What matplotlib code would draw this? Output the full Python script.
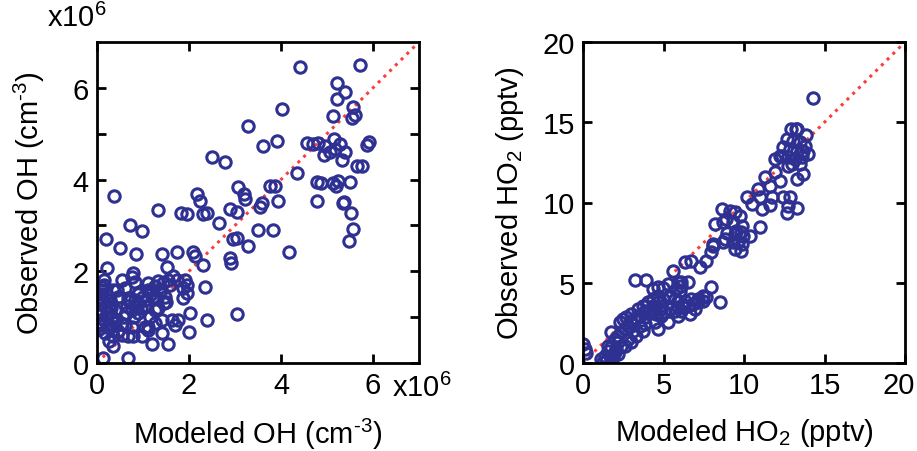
import numpy as np
import matplotlib
matplotlib.use("Agg")
import matplotlib.pyplot as plt
import matplotlib.transforms as mtransforms

plt.rcParams['font.family'] = ['Liberation Sans', 'DejaVu Sans']
plt.rcParams['mathtext.fontset'] = 'custom'
plt.rcParams['mathtext.rm'] = 'Liberation Sans'
plt.rcParams['mathtext.it'] = 'Liberation Sans'

# ---- Data: OH (units of 1e6 cm^-3) ----
oh_mod = [4.41, 5.72, 5.22, 5.39, 5.22, 4.02, 5.57, 5.61, 5.54, 5.13, 3.61, 3.91, 4.57, 4.70, 4.80,
          5.15, 4.96, 5.28, 5.17, 5.07, 4.93, 5.39, 5.33, 5.87, 5.91, 5.65, 5.76, 4.35, 3.76, 3.87,
          4.78, 4.87, 5.13, 5.24, 5.20, 5.50, 3.59, 3.93, 4.78, 5.37, 3.54, 5.35, 5.52, 5.57, 5.48,
          3.50, 3.83, 4.17, 3.28, 2.50, 2.78, 0.37, 2.17, 2.24, 3.07, 3.20, 3.22, 1.33, 1.83, 1.96,
          2.30, 2.39, 2.65, 2.89, 3.04, 0.72, 0.98, 0.20, 0.50, 0.85, 1.41, 1.74, 2.09, 2.13, 2.30,
          2.96, 3.04, 3.28, 2.89, 2.91, 0.22, 1.52, 2.35, 2.02, 2.39, 3.04, 2.00, 1.54, 1.20, 0.67,
          0.13, 0.78, 0.76, 0.83, 0.16, 0.10, 0.07, 0.14, 0.07, 0.17, 0.25, 0.10, 0.21, 0.17, 0.25,
          0.35, 0.46, 0.39, 0.32, 0.28, 0.43, 0.54, 0.50, 0.61, 0.68, 0.83, 0.86, 0.90, 0.75, 0.61,
          0.75, 0.79, 0.97, 1.04, 1.11, 1.15, 1.26, 1.04, 1.11, 1.11, 1.26, 1.33, 1.44, 1.37, 1.48,
          1.30, 1.51, 1.33, 1.41, 1.62, 1.70, 1.77, 1.41, 1.59, 1.73, 1.91, 1.88, 1.95, 1.88, 1.26,
          1.11, 0.35, 0.54, 0.68, 0.10, 0.20, 0.35, 0.45, 0.65, 0.55, 0.90, 1.00, 1.20, 0.88, 0.92,
          0.30, 0.05, 0.62, 1.22, 1.65, 1.95, 0.40, 0.80, 1.05, 1.55,
          0.05, 0.08, 0.12, 0.04, 0.15, 0.06, 0.30, 0.26, 0.70, 0.95, 1.18, 1.45, 0.58, 0.40]
oh_obs = [6.45, 6.50, 6.10, 5.91, 5.75, 5.54, 5.58, 5.40, 5.34, 5.38, 4.73, 4.84, 4.79, 4.77, 4.79,
          4.88, 4.73, 4.77, 4.66, 4.60, 4.53, 4.60, 4.42, 4.75, 4.81, 4.29, 4.29, 4.14, 3.87, 3.85,
          3.94, 3.92, 3.92, 3.96, 3.85, 3.94, 3.50, 3.54, 3.54, 3.52, 3.41, 3.48, 3.28, 2.93, 2.65,
          2.91, 2.89, 2.43, 5.16, 4.49, 4.38, 3.65, 3.68, 3.54, 3.83, 3.68, 3.57, 3.33, 3.28, 3.24,
          3.24, 3.28, 3.06, 3.35, 3.30, 3.00, 2.87, 2.71, 2.51, 2.38, 2.38, 2.43, 2.41, 2.34, 2.14,
          2.71, 2.73, 2.56, 2.30, 2.19, 2.08, 2.10, 1.66, 1.09, 0.94, 1.07, 0.68, 0.42, 0.42, 0.11,
          0.11, 1.97, 1.88, 1.77, 1.80, 1.60, 1.45, 1.38, 1.16, 1.23, 1.09, 0.83, 0.79, 0.65, 0.47,
          0.58, 0.69, 0.87, 1.01, 1.38, 1.60, 1.82, 1.45, 1.63, 1.41, 1.38, 1.23, 1.09, 1.16, 0.83,
          0.79, 0.58, 0.58, 0.79, 0.72, 1.01, 1.16, 1.38, 1.60, 1.74, 1.68, 1.78, 1.74, 1.56, 1.45,
          1.41, 1.34, 1.19, 0.94, 0.94, 0.83, 0.94, 0.65, 1.71, 1.82, 1.82, 1.63, 1.52, 1.41, 0.87,
          0.79, 0.36, 0.61, 0.58, 1.65, 1.50, 1.60, 1.45, 1.25, 0.85, 1.50, 1.45, 1.60, 1.30, 1.55,
          1.20, 0.90, 1.10, 1.45, 1.90, 1.70, 0.95, 1.00, 1.25, 1.80,
          1.30, 1.50, 0.95, 0.75, 1.70, 1.05, 0.80, 1.25, 1.35, 1.20, 1.50, 1.30, 1.00, 1.15]

# ---- Data: HO2 (pptv) ----
ho2_mod = [14.3, 12.9, 13.2, 13.3, 13.85, 12.69, 13.06, 13.48, 13.79, 12.44, 12.86, 13.27, 13.69, 14.0,
           12.34, 12.75, 13.17, 13.58, 12.96, 13.48, 13.69, 13.27, 12.75, 11.93, 12.24,
           11.30, 11.93, 12.24, 11.61, 10.89, 10.17, 10.99, 11.72, 12.44, 12.86, 10.48, 11.61, 11.10,
           12.75, 13.27, 12.65, 10.99,
           8.61, 9.13, 9.44, 9.75, 8.20, 8.71, 9.34, 9.86, 8.93, 9.44, 9.95, 10.37, 8.10, 8.71, 9.34, 9.86,
           8.90, 9.52, 9.83, 9.63, 9.42, 9.83, 8.80,
           8.07, 7.97, 7.66, 7.25, 6.73, 6.32, 5.59, 3.21, 3.93,
           4.35, 4.66, 4.97, 5.28, 5.90, 6.11, 6.52, 6.01, 7.97, 8.49,
           7.66, 7.45, 7.14, 6.83, 6.52, 6.21, 5.90, 5.69, 5.38, 5.07, 4.87, 4.56, 4.35, 4.04, 3.83,
           3.52, 3.21, 3.00, 2.80, 2.59, 2.38, 2.17, 1.97, 2.49, 2.28, 2.69, 3.00, 3.42, 3.73, 4.04,
           4.35, 4.66, 4.97, 5.28, 5.69, 5.90, 6.32, 6.73, 7.14, 7.45, 6.63, 4.66, 5.28, 4.45, 3.73,
           3.31, 2.80, 2.59, 3.00, 1.76, 2.17, 2.38, 4.35, 4.87, 5.90, 3.83, 3.11, 6.11, 6.94,
           6.11, 5.80, 4.66, 5.38, 3.83, 3.52,
           0.00, 0.10, 0.21,
           1.14, 1.35, 1.55, 1.76, 1.97, 2.17, 1.24, 1.45, 1.66, 1.86, 2.07, 1.55]
ho2_obs = [16.5, 14.6, 14.6, 14.6, 14.2, 13.96, 13.85, 13.75, 13.54, 13.44, 13.33, 13.23, 13.23, 13.02,
           12.92, 12.82, 12.71, 12.82, 12.40, 12.40, 11.78, 11.46, 12.30, 12.71, 12.88,
           11.57, 11.92, 11.36, 11.00, 10.84, 10.32, 10.32, 10.32, 10.32, 10.32, 9.91, 9.85, 9.60,
           9.80, 9.64, 9.33, 8.46,
           9.60, 9.49, 9.39, 9.18, 8.66, 8.76, 8.76, 8.55, 8.13, 8.03, 7.93, 7.93, 7.41, 7.52, 7.52, 7.41,
           8.97, 8.24, 8.14, 7.52, 7.10, 7.00, 7.70,
           7.31, 6.90, 6.37, 5.96, 6.37, 6.27, 5.75, 5.19, 5.19,
           4.61, 4.72, 4.65, 4.92, 5.07, 4.82, 5.07, 4.50, 4.72, 3.78,
           4.09, 3.89, 3.78, 3.68, 3.57, 3.57, 3.47, 3.26, 3.37, 3.16, 3.37, 3.06, 3.26, 3.16, 2.85,
           2.95, 2.74, 2.54, 2.33, 2.12, 1.91, 1.71, 1.50, 2.74, 2.54, 2.85, 3.06, 3.37, 3.57, 3.78,
           3.99, 3.78, 3.99, 4.09, 3.99, 3.89, 3.89, 3.99, 3.99, 4.20, 3.05, 2.12, 2.54, 2.54, 2.02,
           1.71, 1.50, 1.08, 1.29, 1.91, 1.29, 1.08, 3.57, 2.95, 2.95, 2.43, 2.02, 3.26, 3.37,
           5.03, 4.61, 4.20, 4.20, 3.26, 2.33,
           1.19, 0.87, 0.63,
           0.25, 0.46, 0.77, 0.98, 0.67, 0.56, 0.04, 0.15, 0.46, 0.35, 0.87, 1.08]

oh_xticks = [0, 2, 4, 6]
oh_xticklabels = ['0', '2', '4', '6']
oh_yticks = [0, 1, 2, 3, 4, 5, 6]
oh_yticklabels = ['0', '', '2', '', '4', '', '6']
ho2_ticks = [0, 5, 10, 15, 20]
ho2_ticklabels = ['0', '5', '10', '15', '20']

MARK = '#2E3192'
LINE = '#FF3B3B'
FS = 21

fig = plt.figure(figsize=(9.17, 4.52), dpi=100)
axL = fig.add_axes([97/917, 1-364/452, 322/917, 321/452])
axR = fig.add_axes([583/917, 1-364/452, 322/917, 321/452])

def style(ax):
    for s in ax.spines.values():
        s.set_linewidth(2.0)
    ax.tick_params(direction='in', length=6.5, width=2, top=True, right=True,
                   labelsize=FS, pad=6)

mk = dict(linestyle='none', marker='o', markersize=8.2, markerfacecolor='none',
          markeredgecolor=MARK, markeredgewidth=2.2, zorder=2)

# Left panel
axL.plot([0, 7], [0, 7], linestyle=':', color=LINE, linewidth=2.2, zorder=1)
axL.plot(oh_mod, oh_obs, **mk)
axL.set_xlim(0, 7)
axL.set_ylim(0, 7)
axL.set_xticks(oh_xticks)
axL.set_xticklabels(oh_xticklabels)
axL.set_yticks(oh_yticks)
axL.set_yticklabels(oh_yticklabels)
style(axL)
axL.set_xlabel(r'Modeled OH (cm$^{\text{-}3}$)', fontsize=FS, labelpad=12)
axL.set_ylabel(r'Observed OH (cm$^{\text{-}3}$)', fontsize=FS, labelpad=18)
axL.text(0.915, -0.032, 'x10$^6$', transform=axL.transAxes, fontsize=FS,
         ha='left', va='top')
axL.text(-0.155, 1.03, 'x10$^6$', transform=axL.transAxes, fontsize=FS,
         ha='left', va='bottom')

# Right panel
axR.plot([0, 20], [0, 20], linestyle=':', color=LINE, linewidth=2.2, zorder=1)
axR.plot(ho2_mod, ho2_obs, **mk)
axR.set_xlim(0, 20)
axR.set_ylim(0, 20)
axR.set_xticks(ho2_ticks)
axR.set_xticklabels(ho2_ticklabels)
axR.set_yticks(ho2_ticks)
axR.set_yticklabels(ho2_ticklabels)
style(axR)
axR.set_xlabel('Modeled HO$_2$ (pptv)', fontsize=FS, labelpad=12)
axR.set_ylabel('Observed HO$_2$ (pptv)', fontsize=FS, labelpad=12)

# nudge the last x tick label of the right panel so it stays inside the figure
last = axR.get_xticklabels()[-1]
last.set_transform(last.get_transform() +
                   mtransforms.ScaledTranslation(-6/100, 0, fig.dpi_scale_trans))

fig.savefig('out.png', dpi=100)
